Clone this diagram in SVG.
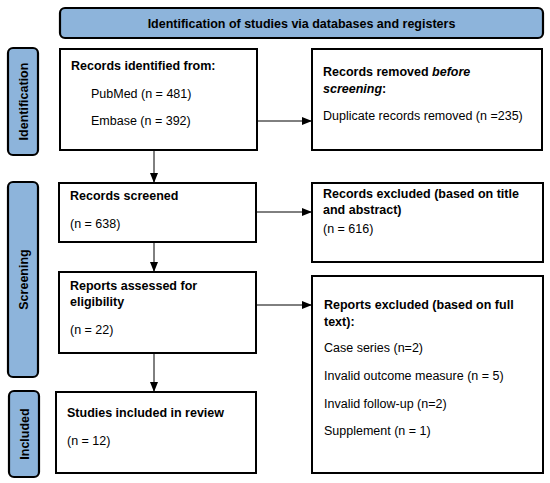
<svg xmlns="http://www.w3.org/2000/svg" width="550" height="483" viewBox="0 0 550 483">
<style>
.box{fill:#fff;stroke:#000;stroke-width:2}
.lab{fill:#8db4db;stroke:#000;stroke-width:2.2}
text{font-family:"Liberation Sans",Arial,sans-serif;font-size:12.5px;fill:#000}
.b{font-weight:bold}
.c{stroke:#000;stroke-width:1;fill:none}
</style>
<defs>
<marker id="ar" markerWidth="10" markerHeight="8" refX="9" refY="4" orient="auto" markerUnits="userSpaceOnUse">
<path d="M0,0 L10,4 L0,8 Z" fill="#000"/>
</marker>
</defs>
<rect width="550" height="483" fill="#fff"/>
<g id="header">
<rect class="lab" x="60" y="8" width="483" height="30" rx="5"/>
<text class="b" x="301.5" y="27.5" text-anchor="middle">Identification of studies via databases and registers</text>
</g>
<g id="lab-identification">
<rect class="lab" x="8" y="48" width="30" height="107" rx="5"/>
<text class="b" transform="translate(27.5,101.5) rotate(-90)" text-anchor="middle">Identification</text>
</g>
<g id="lab-screening">
<rect class="lab" x="8" y="182" width="30" height="195" rx="5"/>
<text class="b" transform="translate(27.5,279.5) rotate(-90)" text-anchor="middle">Screening</text>
</g>
<g id="lab-included">
<rect class="lab" x="9" y="391" width="30" height="86" rx="5"/>
<text class="b" transform="translate(28.5,434) rotate(-90)" text-anchor="middle">Included</text>
</g>
<g id="identified">
<rect class="box" x="60" y="49" width="197" height="101"/>
<text class="b" x="71" y="70">Records identified from:</text>
<text x="91" y="98">PubMed (n = 481)</text>
<text x="91" y="125">Embase (n = 392)</text>
</g>
<g id="removed">
<rect class="box" x="312" y="49" width="230" height="101"/>
<text class="b" x="323" y="76">Records removed <tspan font-style="italic">before</tspan></text>
<text class="b" x="323" y="93"><tspan font-style="italic">screening</tspan>:</text>
<text x="323" y="120">Duplicate records removed (n =235)</text>
</g>
<g id="screened">
<rect class="box" x="59" y="183" width="197" height="59"/>
<text class="b" x="70" y="200">Records screened</text>
<text x="70" y="228">(n = 638)</text>
</g>
<g id="excluded1">
<rect class="box" x="312" y="183" width="231" height="79"/>
<text class="b" x="323" y="198">Records excluded (based on title</text>
<text class="b" x="323" y="214">and abstract)</text>
<text x="323" y="233">(n = 616)</text>
</g>
<g id="assessed">
<rect class="box" x="59" y="272" width="197" height="81"/>
<text class="b" x="70" y="290">Reports assessed for</text>
<text class="b" x="70" y="306">eligibility</text>
<text x="70" y="334">(n = 22)</text>
</g>
<g id="excluded2">
<rect class="box" x="312" y="276" width="231" height="197"/>
<text class="b" x="324" y="309">Reports excluded (based on full</text>
<text class="b" x="324" y="326">text):</text>
<text x="324" y="352">Case series (n=2)</text>
<text x="324" y="380">Invalid outcome measure (n = 5)</text>
<text x="324" y="408">Invalid follow-up (n=2)</text>
<text x="324" y="435">Supplement (n = 1)</text>
</g>
<g id="included">
<rect class="box" x="56" y="392" width="200" height="81"/>
<text class="b" x="67" y="417">Studies included in review</text>
<text x="67" y="445">(n = 12)</text>
</g>
<g id="connectors">
<line class="c" x1="257" y1="121" x2="311" y2="121" marker-end="url(#ar)"/>
<line class="c" x1="154" y1="150" x2="154" y2="182" marker-end="url(#ar)"/>
<line class="c" x1="256" y1="212" x2="311" y2="212" marker-end="url(#ar)"/>
<line class="c" x1="154" y1="242" x2="154" y2="271" marker-end="url(#ar)"/>
<line class="c" x1="256" y1="305" x2="311" y2="305" marker-end="url(#ar)"/>
<line class="c" x1="154" y1="353" x2="154" y2="391" marker-end="url(#ar)"/>
</g>
</svg>
